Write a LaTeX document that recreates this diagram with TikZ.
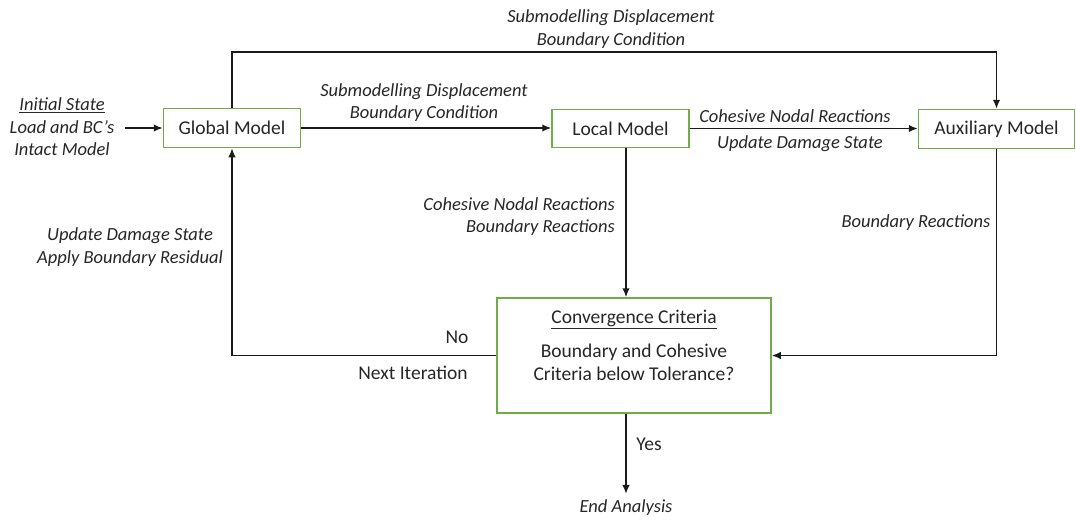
\documentclass[tikz,border=0pt]{standalone}
\usepackage{fontspec}
\setmainfont{Carlito}
\usetikzlibrary{arrows.meta, positioning, calc}
\definecolor{modelGreen}{HTML}{70AD47}
\definecolor{lineDark}{HTML}{1A1A1A}
\definecolor{textDark}{HTML}{262626}
\newcommand{\diagfont}{\fontsize{18.5}{22.5}\selectfont}
\newcommand{\boxfont}{\fontsize{19.5}{23}\selectfont}
\tikzset{
  arrowK/.style={-{Latex[length=9pt,width=7.5pt]}, lineDark, line width=1.5pt},
  boxModel/.style={rectangle, draw=modelGreen, line width=1.5pt, fill=white,
                   text=textDark, align=center, inner sep=0pt, font=\boxfont},
  lblI/.style={text=textDark, font=\diagfont\itshape, align=center, inner sep=1pt},
  lblN/.style={text=textDark, font=\boxfont, align=center, inner sep=1pt},
}

\begin{document}
\begin{tikzpicture}[x=1pt, y=-1pt, font=\diagfont]
    \useasboundingbox (0,0) rectangle (1076,520);
    % models
    \node[boxModel, minimum width=137pt, minimum height=39pt] (glob) at (232,128) {Global Model};
    \node[boxModel, minimum width=137pt, minimum height=38pt] (loc) at (620.5,128.5) {Local Model};
    \node[boxModel, minimum width=156pt, minimum height=39pt] (aux) at (996.5,129) {Auxiliary Model};
    \node[boxModel, minimum width=274pt, minimum height=115pt] (conv) at (634,355.5) {};
    \node[lblN] (convtxt) at ($(conv.center)+(0,-10)$)
      {\underline{Convergence Criteria}\\[11pt]Boundary and Cohesive\\Criteria below Tolerance?};
    % start and end
    \node[lblI] (init) at (62,127) {\underline{Initial State}\\Load and BC's\\Intact Model};
    \coordinate (initout) at (125,128);
    \node[lblI, inner sep=2pt] (endan) at (626,508) {End Analysis};
    % connectors
    \draw[arrowK] (initout) -- (glob.west);
    \draw[arrowK] (glob.east) -- (loc.west |- glob.east);
    \draw[arrowK] (loc.east) -- (aux.west |- loc.east);
    \draw[arrowK] (glob.north) -- ++(0,-56) -| (aux.north);
    \draw[arrowK] ([xshift=5.5pt]loc.south) -- ([xshift=5.5pt]loc.south |- conv.north);
    \draw[arrowK] (aux.south) |- (conv.east);
    \draw[arrowK] (conv.west) -| (glob.south);
    \draw[arrowK] ([xshift=-8pt]conv.south) -- ([yshift=4pt]endan.north);
    % labels
    \node[lblI] (topbc) at (611,29) {Submodelling Displacement\\Boundary Condition};
    \node[lblI] (midbc) at (424,102.5) {Submodelling Displacement\\Boundary Condition};
    \node[lblI] (cohre) at (795,116) {Cohesive Nodal Reactions};
    \node[lblI] (upds) at (800,144) {Update Damage State};
    \node[lblI, align=right, anchor=east] (locre) at (616,216.5) {Cohesive Nodal Reactions\\Boundary Reactions};
    \node[lblI] (resid) at (130,247) {Update Damage State\\Apply Boundary Residual};
    \node[lblI] (bndre) at (916,223) {Boundary Reactions};
    \node[lblN] (no) at (457,337) {No};
    \node[lblN] (nextit) at (413,373) {Next Iteration};
    \node[lblN] (yes) at (649,444) {Yes};
  \end{tikzpicture}
\end{document}
